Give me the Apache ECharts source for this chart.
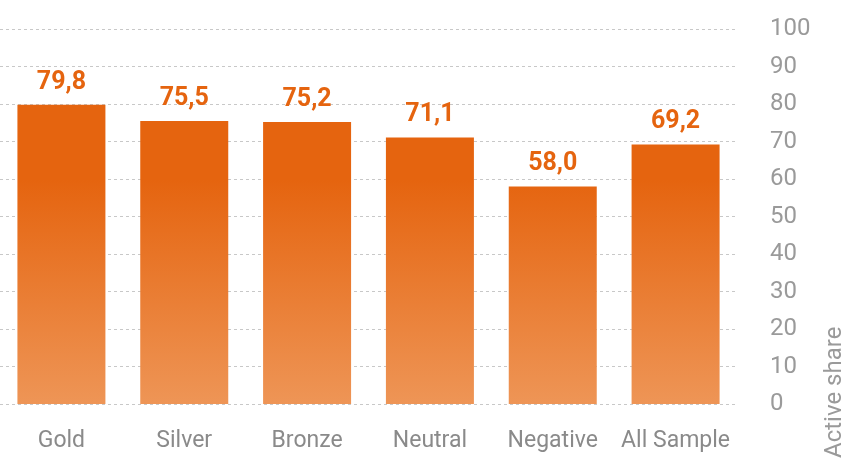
<!DOCTYPE html>
<html><head><meta charset="utf-8">
<script src="https://cdn.jsdelivr.net/npm/echarts@6/dist/echarts.min.js"></script>
<style>html,body{margin:0;padding:0;background:#fff}#c{width:851px;height:458px}</style>
</head><body><div id="c"></div>
<script>
var categories = ['Gold','Silver','Bronze','Neutral','Negative','All Sample'];
var values = [79.8, 75.5, 75.2, 71.1, 58.0, 69.2];
var yTicks = [0,10,20,30,40,50,60,70,80,90,100];
var axisName = 'Active share';

var FONT = '"Roboto", sans-serif';
var chart = echarts.init(document.getElementById('c'));
chart.setOption({
  animation: false,
  grid: {left: -3, right: 114, top: 29, bottom: 54},
  xAxis: {
    type: 'category', data: categories,
    axisLine: {show: false}, axisTick: {show: false},
    axisLabel: {color: '#8a8a8a', fontSize: 23, fontFamily: FONT, margin: 26, interval: 0, hideOverlap: false}
  },
  yAxis: {
    type: 'value', position: 'right', min: 0, max: 100, interval: 10,
    axisLine: {show: false}, axisTick: {show: false},
    axisLabel: {color: '#9a9a9a', fontSize: 24, fontFamily: FONT, margin: 33, align: 'left'},
    splitLine: {lineStyle: {type: [3, 3], color: '#c8c8c8', width: 1}}
  },
  series: [{
    type: 'bar', data: values, barWidth: 88,
    itemStyle: {
      color: new echarts.graphic.LinearGradient(0, 180, 0, 404, [
        {offset: 0, color: '#E5640F'}, {offset: 1, color: '#EE9556'}
      ], true)
    },
    label: {
      show: true, position: 'top', distance: 10,
      color: '#E5640F', fontSize: 25, fontWeight: 'bold', fontFamily: FONT,
      formatter: function(p){ return p.value.toFixed(1).replace('.', ','); }
    }
  }],
  graphic: [{
    type: 'text', left: 823, bottom: 0, rotation: Math.PI/2,
    style: {text: axisName, fill: '#9a9a9a', fontSize: 24, fontFamily: FONT}
  }]
});
</script></body></html>
